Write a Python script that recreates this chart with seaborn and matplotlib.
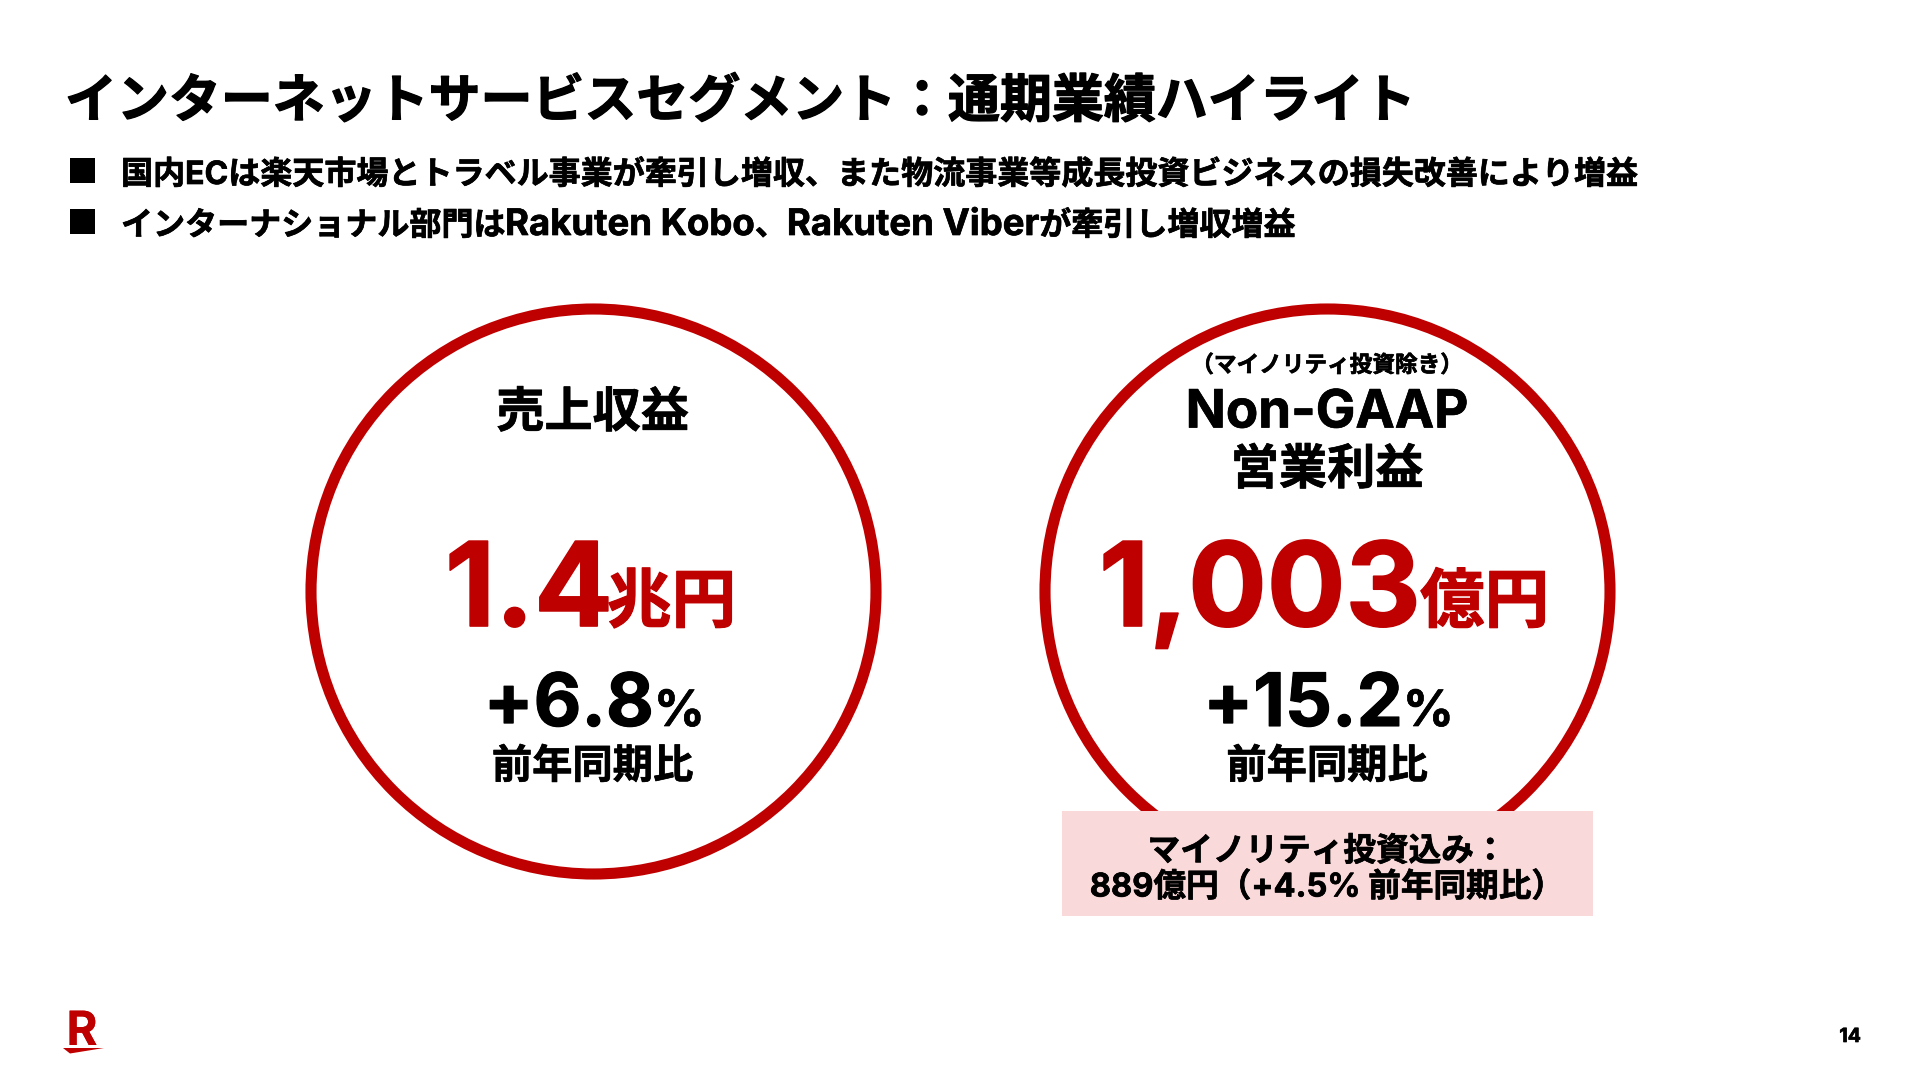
import pandas as pd
import seaborn as sns
import matplotlib.pyplot as plt
import matplotlib.patheffects as pe
from matplotlib.patches import Rectangle, Polygon

# slide text and figures
title = 'インターネットサービスセグメント：通期業績ハイライト'
bullet_1 = ['国内ECは楽天市場とトラベル事業が牽引し増収、また物流事業等成長投資ビジネスの損失改善により増益']
bullet_2 = ['インターナショナル部門は', 'Rakuten Kobo', '、', 'Rakuten Viber', 'が牽引し増収増益']
kpi_names = [['売上収益'], ['Non-GAAP', '営業利益']]
kpi_values = ['1.4', '1,003']
kpi_units = ['兆円', '億円']
kpi_growth = ['+6.8', '+15.2']
note_top = '（マイノリティ投資除き）'
note_box = 'マイノリティ投資込み：\n889億円（+4.5% 前年同期比）'
yoy_label = '前年同期比'
page_no = '14'

RED = '#bf0000'
JP = ['Inter', 'Noto Sans CJK JP', 'DejaVu Sans']

sns.set_theme(style='white')
plt.rcParams['font.family'] = JP
plt.rcParams['text.color'] = 'black'


def put(ax, x, y, txt, size, color='black', ha='center', va='center', heavy=0.5, **kw):
    t = ax.text(x, y, txt, fontsize=size, fontweight='bold', color=color, ha=ha, va=va, **kw)
    t.set_path_effects([pe.withStroke(linewidth=heavy, foreground=color)])
    return t


def put_runs(ax, x, y, runs, size):
    # latin runs sit a bit larger than the japanese ones, like the slide font
    rend = fig.canvas.get_renderer()
    for run in runs:
        s = 26.3 if run.startswith('Rakuten') else size
        t = put(ax, x, y, run, s, ha='left', va='baseline')
        x = ax.transData.inverted().transform(t.get_window_extent(rend).max)[0]


fig = plt.figure(figsize=(19.2, 10.8), dpi=100)
ax = fig.add_axes([0, 0, 1, 1])
ax.set_xlim(0, 1920)
ax.set_ylim(1080, 0)
ax.axis('off')

# rings
rings = pd.DataFrame({'x': [592.5, 1327], 'y': [590.5, 590.5]})
sns.scatterplot(data=rings, x='x', y='y', marker='o', s=(565 * 0.72) ** 2, facecolor='white',
                edgecolor=RED, linewidth=8, legend=False, ax=ax, clip_on=False, zorder=1)

put(ax, 65, 103, title, 37.4, ha='left', heavy=0.9)
for top, runs in zip([158, 209], [bullet_1, bullet_2]):
    ax.add_patch(Rectangle((70, top), 25, 25, color='black', lw=0))
    put_runs(ax, 121, top + 26, runs, 23.07)

# kpi blocks
name_y = [[414], [414, 471]]
name_size = [[34.7], [38, 34.7]]
for i, cx in enumerate(rings['x']):
    split = [607, 1420][i]
    split2 = [654, 1403][i]
    for txt, y, s in zip(kpi_names[i], name_y[i], name_size[i]):
        put(ax, cx, y, txt, s)
    put(ax, split + [6, 1][i], 626, kpi_values[i], 84, color=RED, ha='right', va='baseline', heavy=1.2)
    put(ax, split, 622, kpi_units[i], 46.5, color=RED, ha='left', va='baseline', heavy=0.8)
    put(ax, split2, 726, kpi_growth[i], 53, ha='right', va='baseline', heavy=0.8)
    put(ax, split2, 726, '%', 36, ha='left', va='baseline')
    put(ax, cx, 767, yoy_label, 29)

put(ax, 1327, 366, note_top, 16.3)
ax.add_patch(Rectangle((1062, 811), 531, 105, color='#f9d9d9', lw=0, zorder=3))
put(ax, 1327, 870, note_box, 23.5, linespacing=1.18, zorder=4)

# logo and page number
put(ax, 82, 1045, 'R', 34, color=RED, va='baseline', heavy=0)
ax.add_patch(Polygon([(63, 1048), (104, 1048), (70, 1053.5)], color=RED, lw=0))
put(ax, 1861, 1037, page_no, 14, ha='right')

fig.savefig('out.png', dpi=100)
